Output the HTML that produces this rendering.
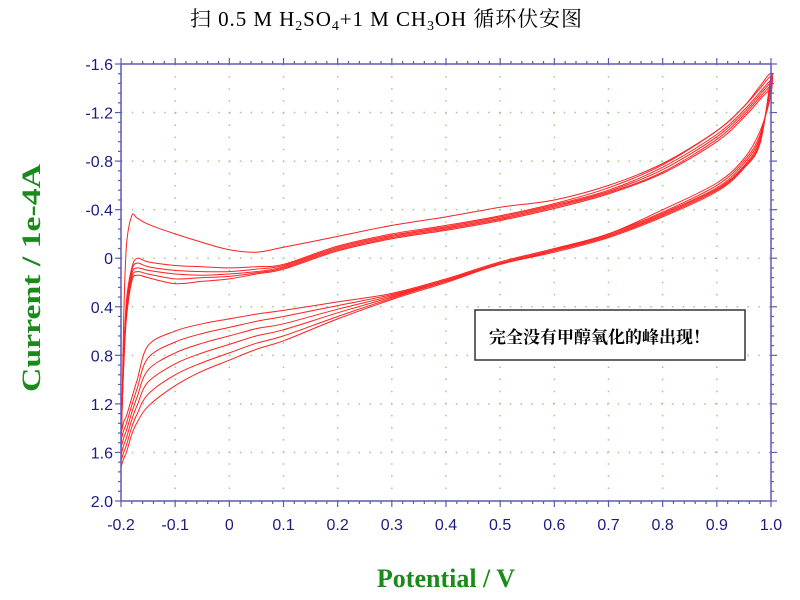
<!DOCTYPE html>
<html><head><meta charset="utf-8"><style>
body{margin:0;background:#fff;}
svg{display:block}
</style></head><body>
<svg id="chart" width="800" height="600" viewBox="0 0 800 600" xmlns="http://www.w3.org/2000/svg">
<text x="386" y="26" text-anchor="middle" font-family="Liberation Serif, Noto Serif CJK SC, serif" font-size="21" fill="#000" textLength="392">扫 0.5 M H<tspan font-size="14" dy="4">2</tspan><tspan dy="-4">SO</tspan><tspan font-size="14" dy="4">4</tspan><tspan dy="-4">+1 M CH</tspan><tspan font-size="14" dy="4">3</tspan><tspan dy="-4">OH 循环伏安图</tspan></text>
<g id="grid"></g>
<g id="curves"></g>
<g id="axes"></g>
<text transform="translate(40,278) rotate(-90)" text-anchor="middle" font-family="Liberation Serif, serif" font-weight="bold" font-size="26" fill="#1a8a1a" textLength="228" lengthAdjust="spacingAndGlyphs">Current / 1e-4A</text>
<text x="446" y="587" text-anchor="middle" font-family="Liberation Serif, serif" font-weight="bold" font-size="26" fill="#1a8a1a">Potential / V</text>
<g>
<rect x="475" y="310" width="270" height="50" fill="#fff" stroke="#333" stroke-width="1.5"/>
<text x="489" y="343" font-family="Liberation Serif, Noto Serif CJK SC, serif" font-weight="bold" font-size="17" fill="#000">完全没有甲醇氧化的峰出现！</text>
</g>
</svg>
<script>
const potentials=[-0.2,-0.195,-0.19,-0.18,-0.17,-0.15,-0.1,-0.05,0,0.05,0.1,0.2,0.3,0.4,0.5,0.6,0.7,0.8,0.9,0.95,0.98,1.0];
const upper1=[1.72,0.5,-0.1,-0.35,-0.33,-0.28,-0.2,-0.13,-0.07,-0.05,-0.09,-0.18,-0.27,-0.34,-0.42,-0.48,-0.6,-0.78,-1.05,-1.25,-1.42,-1.52];
const upper2=[1.6,0.8,0.35,0.08,0.0,0.03,0.06,0.07,0.08,0.07,0.05,-0.1,-0.2,-0.27,-0.35,-0.45,-0.58,-0.77,-1.05,-1.25,-1.4,-1.5];
const upper3=[1.55,0.8,0.4,0.1,0.04,0.07,0.1,0.11,0.11,0.09,0.06,-0.09,-0.19,-0.26,-0.34,-0.44,-0.56,-0.75,-1.02,-1.22,-1.37,-1.47];
const upper4=[1.5,0.85,0.42,0.13,0.08,0.1,0.13,0.14,0.13,0.11,0.07,-0.08,-0.18,-0.25,-0.33,-0.43,-0.55,-0.73,-1.0,-1.2,-1.35,-1.45];
const upper5=[1.45,0.85,0.45,0.16,0.11,0.13,0.17,0.16,0.15,0.12,0.08,-0.07,-0.17,-0.24,-0.32,-0.42,-0.54,-0.71,-0.98,-1.18,-1.33,-1.43];
const upper6=[1.4,0.9,0.5,0.19,0.14,0.16,0.21,0.19,0.17,0.13,0.09,-0.06,-0.16,-0.23,-0.31,-0.41,-0.53,-0.7,-0.96,-1.16,-1.31,-1.41];
const lower1=[1.45,1.35,1.3,1.15,1.0,0.72,0.6,0.54,0.5,0.46,0.43,0.36,0.29,0.17,0.03,-0.08,-0.2,-0.4,-0.62,-0.82,-1.05,-1.35];
const lower2=[1.5,1.42,1.36,1.21,1.07,0.82,0.69,0.62,0.57,0.52,0.48,0.39,0.3,0.18,0.04,-0.07,-0.2,-0.38,-0.6,-0.8,-1.02,-1.4];
const lower3=[1.56,1.48,1.42,1.27,1.14,0.92,0.78,0.7,0.64,0.58,0.54,0.42,0.31,0.18,0.04,-0.07,-0.19,-0.37,-0.58,-0.78,-1.0,-1.43];
const lower4=[1.62,1.54,1.48,1.33,1.21,1.02,0.87,0.78,0.71,0.64,0.59,0.45,0.32,0.19,0.05,-0.06,-0.18,-0.36,-0.57,-0.76,-0.98,-1.45];
const lower5=[1.67,1.6,1.54,1.39,1.28,1.12,0.96,0.86,0.78,0.7,0.64,0.48,0.33,0.19,0.05,-0.06,-0.18,-0.35,-0.56,-0.75,-0.96,-1.47];
const lower6=[1.72,1.65,1.6,1.45,1.35,1.22,1.05,0.93,0.84,0.75,0.68,0.5,0.34,0.2,0.05,-0.05,-0.17,-0.34,-0.55,-0.74,-0.95,-1.5];
const xTicks=["-0.2","-0.1","0","0.1","0.2","0.3","0.4","0.5","0.6","0.7","0.8","0.9","1.0"];
const yTicks=["-1.6","-1.2","-0.8","-0.4","0","0.4","0.8","1.2","1.6","2.0"];

const NS="http://www.w3.org/2000/svg";
const L=121,R=771,T=64,B=501,xmin=-0.2,xmax=1.0,ymin=-1.6,ymax=2.0;
const sx=v=>L+(v-xmin)/(xmax-xmin)*(R-L);
const sy=v=>T+(v-ymin)/(ymax-ymin)*(B-T);
function mk(tag,attrs,parent){const e=document.createElementNS(NS,tag);for(const k in attrs)e.setAttribute(k,attrs[k]);parent.appendChild(e);return e;}
const grid=document.getElementById('grid'),axes=document.getElementById('axes'),curves=document.getElementById('curves');

xTicks.forEach(t=>{const x=sx(+t);if(x<=L+1||x>=R-1)return;
  const g=mk('line',{x1:x,y1:T,x2:x,y2:B,stroke:'#9cc98c','stroke-width':1.5,'stroke-dasharray':'1.5 10.6'},grid);
  
  });
yTicks.forEach(t=>{const y=sy(+t);if(y<=T+1||y>=B-1)return;
  const g=mk('line',{x1:L,y1:y,x2:R,y2:y,stroke:'#9cc98c','stroke-width':1.5,'stroke-dasharray':'1.5 9.3'},grid);
  
  });

function smooth(pts){let d='M'+pts[0][0]+','+pts[0][1];
  for(let i=0;i<pts.length-1;i++){const p0=pts[Math.max(0,i-1)],p1=pts[i],p2=pts[i+1],p3=pts[Math.min(pts.length-1,i+2)];
    const c1=[p1[0]+(p2[0]-p0[0])/6,p1[1]+(p2[1]-p0[1])/6],c2=[p2[0]-(p3[0]-p1[0])/6,p2[1]-(p3[1]-p1[1])/6];
    d+=' C'+c1[0].toFixed(1)+','+c1[1].toFixed(1)+' '+c2[0].toFixed(1)+','+c2[1].toFixed(1)+' '+p2[0].toFixed(1)+','+p2[1].toFixed(1);}
  return d;}
const cycles=[[upper1,lower1],[upper2,lower2],[upper3,lower3],[upper4,lower4],[upper5,lower5],[upper6,lower6]];
cycles.forEach((c,i)=>{
  const pts=potentials.map((v,j)=>[sx(v),sy(c[0][j])]);
  for(let j=potentials.length-1;j>=0;j--)pts.push([sx(potentials[j]),sy(c[1][j])]);
  const p=mk('path',{d:smooth(pts),fill:'none',stroke:'#ff2020','stroke-width':1},curves);
  
  
});

const ac='#5a5ab8';
const fr=mk('rect',{x:L,y:T,width:R-L,height:B-T,fill:'none',stroke:ac,'stroke-width':1.5},axes);


for(let k=0;k<=60;k++){const v=xmin+k*0.02,x=sx(v),len=(k%5===0)?6:3;
  mk('line',{x1:x,y1:B,x2:x,y2:B+len,stroke:ac,'stroke-width':1.2},axes);
  mk('line',{x1:x,y1:T,x2:x,y2:T-len,stroke:ac,'stroke-width':1.2},axes);}
for(let k=0;k<=45;k++){const v=ymin+k*0.08,y=sy(v),len=(k%5===0)?6:3;
  mk('line',{x1:L,y1:y,x2:L-len,y2:y,stroke:ac,'stroke-width':1.2},axes);
  mk('line',{x1:R,y1:y,x2:R+len,y2:y,stroke:ac,'stroke-width':1.2},axes);}
xTicks.forEach(t=>{const e=mk('text',{x:sx(+t),y:B+29,'text-anchor':'middle','font-family':'Liberation Sans, sans-serif','font-size':16,fill:'#1c1c80'},axes);e.textContent=t;
  
  });
yTicks.forEach(t=>{const e=mk('text',{x:L-8,y:sy(+t)+6,'text-anchor':'end','font-family':'Liberation Sans, sans-serif','font-size':16,fill:'#1c1c80'},axes);e.textContent=t;
  
  });
</script>
</body></html>
